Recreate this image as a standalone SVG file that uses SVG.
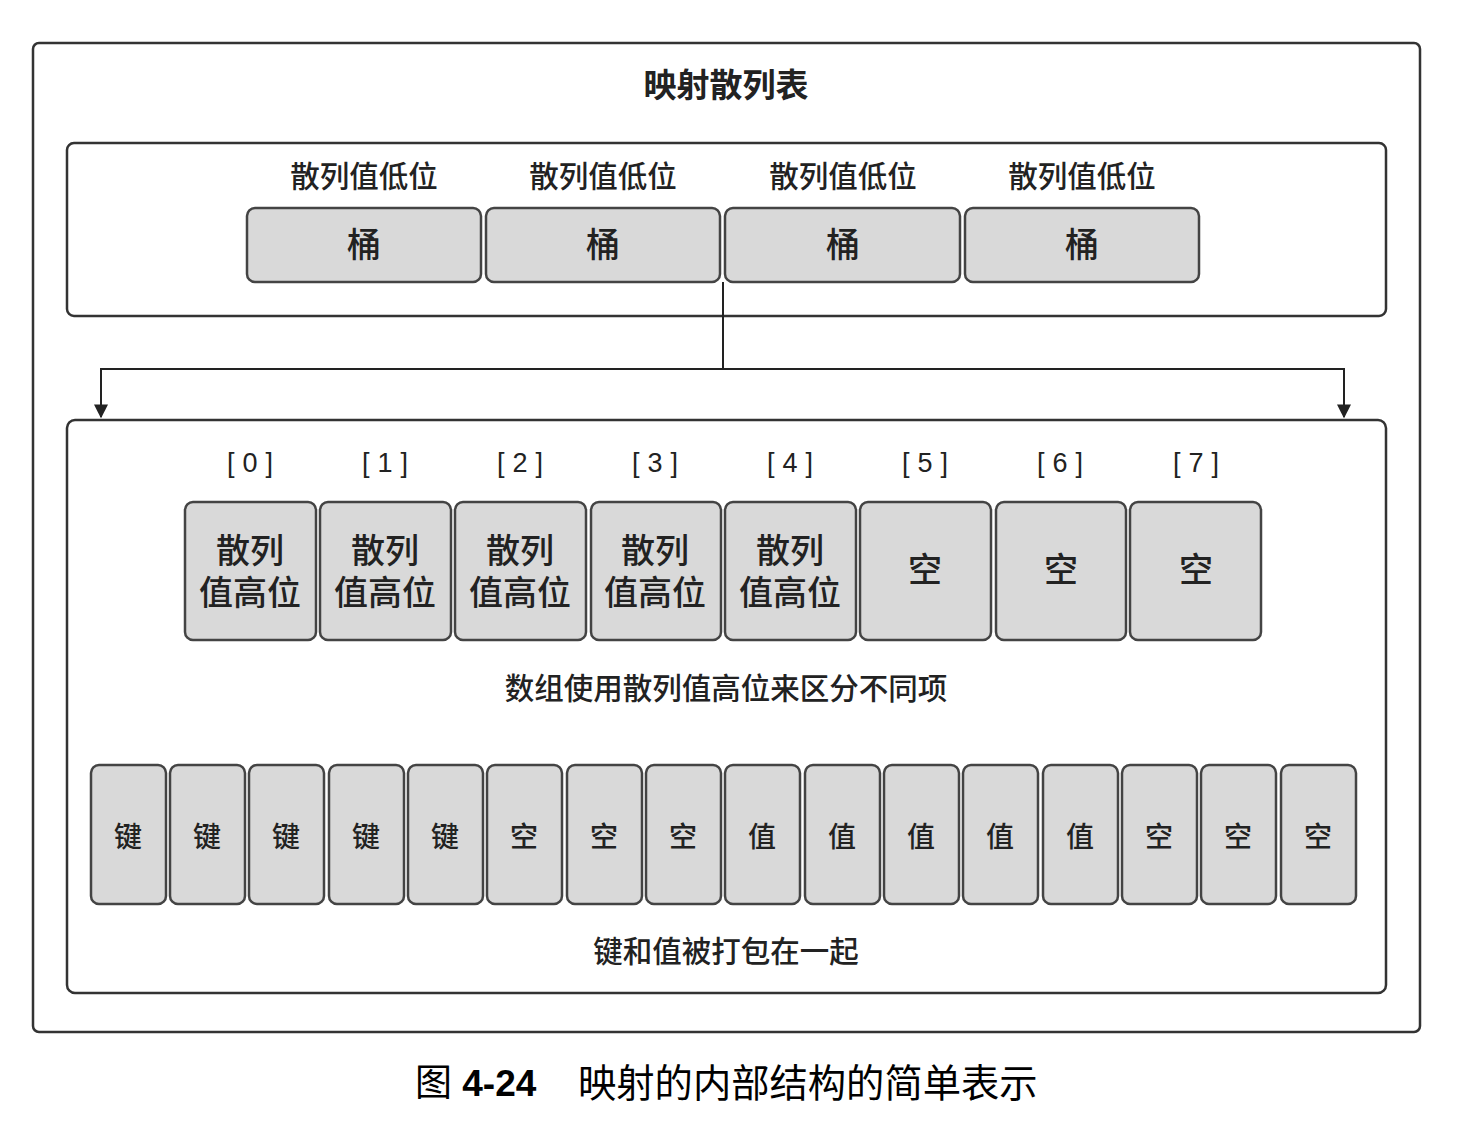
<svg xmlns="http://www.w3.org/2000/svg" width="1462" height="1146" viewBox="0 0 1462 1146">
<style>
text{font-family:"Liberation Sans","Noto Sans CJK SC",sans-serif;fill:#222;text-anchor:middle;dominant-baseline:central}
.frame{fill:#fff;stroke:#333;stroke-width:2.5}
.cell{fill:#d9d9d9;stroke:#444;stroke-width:2.5}
.t26{font-size:28px;font-weight:500}
.lab{font-size:29.5px;font-weight:500}
.t34{font-size:34px;font-weight:500}
.idx{font-size:27px;letter-spacing:8px}
.conn{fill:none;stroke:#222;stroke-width:2}
</style>
<defs>
<marker id="arr" viewBox="0 0 10 10" refX="9" refY="5" markerWidth="14" markerHeight="14" orient="auto" markerUnits="userSpaceOnUse" preserveAspectRatio="none">
<path d="M0,0 L10,5 L0,10 z" fill="#222"/>
</marker>
</defs>
<rect width="1462" height="1146" fill="#fff"/>
<g id="outer">
<rect class="frame" x="33" y="43" width="1387" height="989" rx="6"/>
<text x="726" y="85" style="font-size:33px;font-weight:bold">映射散列表</text>
</g>
<g id="top-box">
<rect class="frame" x="67" y="143" width="1319" height="173" rx="7"/>
</g>
<g id="bucket-0"><text class="lab" x="364" y="176">散列值低位</text><rect class="cell" x="247" y="208" width="234" height="74" rx="8"/><text class="t34" x="364" y="245">桶</text></g>
<g id="bucket-1"><text class="lab" x="603" y="176">散列值低位</text><rect class="cell" x="486" y="208" width="234" height="74" rx="8"/><text class="t34" x="603" y="245">桶</text></g>
<g id="bucket-2"><text class="lab" x="843" y="176">散列值低位</text><rect class="cell" x="725" y="208" width="235" height="74" rx="8"/><text class="t34" x="843" y="245">桶</text></g>
<g id="bucket-3"><text class="lab" x="1082" y="176">散列值低位</text><rect class="cell" x="965" y="208" width="234" height="74" rx="8"/><text class="t34" x="1082" y="245">桶</text></g>
<g id="connectors">
<path class="conn" d="M723,282 V369 H101 V417" marker-end="url(#arr)"/>
<path class="conn" d="M723,369 H1344 V417" marker-end="url(#arr)"/>
</g>
<g id="bottom-box">
<rect class="frame" x="67" y="420" width="1319" height="573" rx="8"/>
<text class="lab" x="726" y="688">数组使用散列值高位来区分不同项</text>
<text class="lab" x="726" y="951">键和值被打包在一起</text>
</g>
<g id="array-0"><text class="idx" x="254" y="463">[0]</text><rect class="cell" x="185" y="502" width="131" height="138" rx="8"/><text class="t34" x="250" y="551">散列</text><text class="t34" x="250" y="593">值高位</text></g>
<g id="array-1"><text class="idx" x="389" y="463">[1]</text><rect class="cell" x="320" y="502" width="131" height="138" rx="8"/><text class="t34" x="385" y="551">散列</text><text class="t34" x="385" y="593">值高位</text></g>
<g id="array-2"><text class="idx" x="524" y="463">[2]</text><rect class="cell" x="455" y="502" width="131" height="138" rx="8"/><text class="t34" x="520" y="551">散列</text><text class="t34" x="520" y="593">值高位</text></g>
<g id="array-3"><text class="idx" x="659" y="463">[3]</text><rect class="cell" x="591" y="502" width="130" height="138" rx="8"/><text class="t34" x="655" y="551">散列</text><text class="t34" x="655" y="593">值高位</text></g>
<g id="array-4"><text class="idx" x="794" y="463">[4]</text><rect class="cell" x="725" y="502" width="131" height="138" rx="8"/><text class="t34" x="790" y="551">散列</text><text class="t34" x="790" y="593">值高位</text></g>
<g id="array-5"><text class="idx" x="929" y="463">[5]</text><rect class="cell" x="860" y="502" width="131" height="138" rx="8"/><text class="t34" x="925" y="570">空</text></g>
<g id="array-6"><text class="idx" x="1064" y="463">[6]</text><rect class="cell" x="996" y="502" width="130" height="138" rx="8"/><text class="t34" x="1061" y="570">空</text></g>
<g id="array-7"><text class="idx" x="1200" y="463">[7]</text><rect class="cell" x="1130" y="502" width="131" height="138" rx="8"/><text class="t34" x="1196" y="570">空</text></g>
<g id="slot-0"><rect class="cell" x="91" y="765" width="75" height="139" rx="8"/><text class="t26" x="128" y="837">键</text></g>
<g id="slot-1"><rect class="cell" x="170" y="765" width="75" height="139" rx="8"/><text class="t26" x="207" y="837">键</text></g>
<g id="slot-2"><rect class="cell" x="249" y="765" width="75" height="139" rx="8"/><text class="t26" x="286" y="837">键</text></g>
<g id="slot-3"><rect class="cell" x="329" y="765" width="75" height="139" rx="8"/><text class="t26" x="366" y="837">键</text></g>
<g id="slot-4"><rect class="cell" x="408" y="765" width="75" height="139" rx="8"/><text class="t26" x="445" y="837">键</text></g>
<g id="slot-5"><rect class="cell" x="487" y="765" width="75" height="139" rx="8"/><text class="t26" x="524" y="837">空</text></g>
<g id="slot-6"><rect class="cell" x="567" y="765" width="75" height="139" rx="8"/><text class="t26" x="604" y="837">空</text></g>
<g id="slot-7"><rect class="cell" x="646" y="765" width="75" height="139" rx="8"/><text class="t26" x="683" y="837">空</text></g>
<g id="slot-8"><rect class="cell" x="725" y="765" width="75" height="139" rx="8"/><text class="t26" x="762" y="837">值</text></g>
<g id="slot-9"><rect class="cell" x="805" y="765" width="75" height="139" rx="8"/><text class="t26" x="842" y="837">值</text></g>
<g id="slot-10"><rect class="cell" x="884" y="765" width="75" height="139" rx="8"/><text class="t26" x="921" y="837">值</text></g>
<g id="slot-11"><rect class="cell" x="963" y="765" width="75" height="139" rx="8"/><text class="t26" x="1000" y="837">值</text></g>
<g id="slot-12"><rect class="cell" x="1043" y="765" width="75" height="139" rx="8"/><text class="t26" x="1080" y="837">值</text></g>
<g id="slot-13"><rect class="cell" x="1122" y="765" width="75" height="139" rx="8"/><text class="t26" x="1159" y="837">空</text></g>
<g id="slot-14"><rect class="cell" x="1201" y="765" width="75" height="139" rx="8"/><text class="t26" x="1238" y="837">空</text></g>
<g id="slot-15"><rect class="cell" x="1281" y="765" width="75" height="139" rx="8"/><text class="t26" x="1318" y="837">空</text></g>
<g id="caption">
<text x="415" y="1083" style="font-size:37px;text-anchor:start;fill:#000">图 <tspan style="font-weight:bold">4-24</tspan><tspan x="578" style="font-size:38.3px">映射的内部结构的简单表示</tspan></text>
</g>
</svg>
